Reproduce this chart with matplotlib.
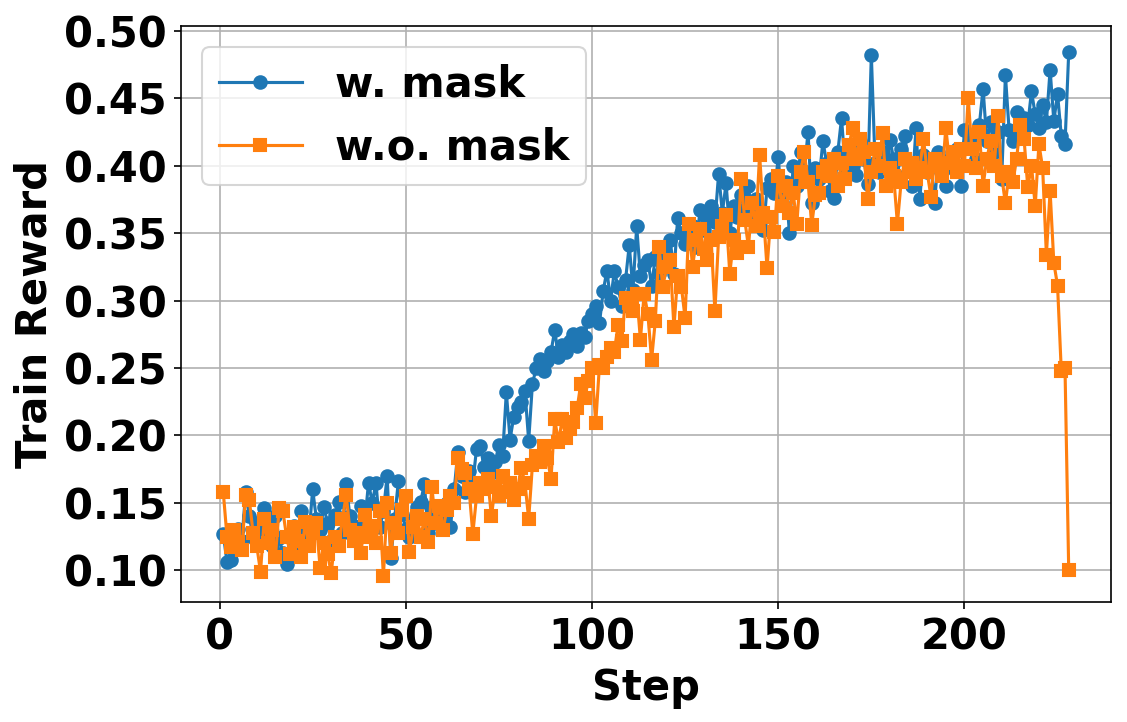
import matplotlib
matplotlib.use('Agg')
import matplotlib.pyplot as plt

plt.rcParams.update({
    'font.family': 'DejaVu Sans',
    'font.size': 20,
    'font.weight': 'bold',
})

# train reward per step
w_mask = [
    0.127, 0.106, 0.108, 0.118, 0.131, 0.122, 0.158, 0.140, 0.125, 0.135,
    0.128, 0.146, 0.132, 0.118, 0.140, 0.124, 0.113, 0.105, 0.127, 0.133,
    0.120, 0.144, 0.131, 0.126, 0.160, 0.138, 0.130, 0.147, 0.135, 0.122,
    0.141, 0.151, 0.128, 0.164, 0.140, 0.133, 0.123, 0.148, 0.136, 0.165,
    0.150, 0.165, 0.132, 0.144, 0.170, 0.109, 0.138, 0.166, 0.142, 0.131,
    0.125, 0.137, 0.147, 0.151, 0.164, 0.128, 0.147, 0.135, 0.143, 0.138,
    0.150, 0.132, 0.160, 0.188, 0.170, 0.158, 0.174, 0.165, 0.190, 0.192,
    0.177, 0.183, 0.172, 0.180, 0.193, 0.185, 0.232, 0.197, 0.214, 0.221,
    0.225, 0.233, 0.196, 0.238, 0.250, 0.257, 0.248, 0.255, 0.262, 0.278,
    0.258, 0.267, 0.262, 0.270, 0.275, 0.266, 0.276, 0.273, 0.285, 0.290,
    0.296, 0.283, 0.307, 0.322, 0.300, 0.322, 0.310, 0.296, 0.315, 0.341,
    0.308, 0.355, 0.318, 0.326, 0.330, 0.311, 0.332, 0.320, 0.338, 0.329,
    0.345, 0.320, 0.361, 0.350, 0.342, 0.348, 0.355, 0.340, 0.367, 0.352,
    0.361, 0.370, 0.358, 0.394, 0.365, 0.387, 0.350, 0.370, 0.362, 0.378,
    0.368, 0.385, 0.360, 0.375, 0.366, 0.352, 0.383, 0.390, 0.380, 0.406,
    0.372, 0.388, 0.350, 0.400, 0.385, 0.410, 0.395, 0.425, 0.372, 0.398,
    0.390, 0.418, 0.402, 0.381, 0.376, 0.410, 0.435, 0.398, 0.412, 0.400,
    0.393, 0.418, 0.405, 0.386, 0.482, 0.402, 0.395, 0.410, 0.398, 0.419,
    0.405, 0.392, 0.412, 0.422, 0.400, 0.385, 0.428, 0.375, 0.408, 0.395,
    0.400, 0.372, 0.410, 0.395, 0.385, 0.405, 0.398, 0.412, 0.385, 0.426,
    0.415, 0.420, 0.405, 0.430, 0.457, 0.418, 0.432, 0.410, 0.425, 0.390,
    0.467, 0.426, 0.418, 0.440, 0.422, 0.435, 0.430, 0.455, 0.438, 0.428,
    0.445, 0.432, 0.471, 0.433, 0.453, 0.422, 0.416, 0.484,
]

wo_mask = [
    0.158, 0.125, 0.117, 0.130, 0.121, 0.115, 0.156, 0.152, 0.128, 0.118,
    0.099, 0.138, 0.120, 0.130, 0.110, 0.146, 0.144, 0.125, 0.112, 0.132,
    0.122, 0.110, 0.136, 0.118, 0.128, 0.135, 0.102, 0.120, 0.112, 0.098,
    0.125, 0.118, 0.138, 0.156, 0.130, 0.122, 0.128, 0.113, 0.141, 0.125,
    0.133, 0.120, 0.144, 0.096, 0.150, 0.113, 0.135, 0.128, 0.145, 0.155,
    0.114, 0.132, 0.140, 0.125, 0.138, 0.121, 0.162, 0.135, 0.148, 0.130,
    0.145, 0.155, 0.150, 0.183, 0.175, 0.172, 0.160, 0.127, 0.155, 0.165,
    0.160, 0.168, 0.140, 0.162, 0.155, 0.170, 0.158, 0.165, 0.152, 0.160,
    0.176, 0.165, 0.138, 0.178, 0.185, 0.180, 0.192, 0.183, 0.168, 0.212,
    0.195, 0.212, 0.198, 0.205, 0.210, 0.220, 0.238, 0.228, 0.240, 0.250,
    0.209, 0.252, 0.250, 0.258, 0.265, 0.262, 0.282, 0.270, 0.302, 0.298,
    0.292, 0.305, 0.271, 0.305, 0.290, 0.256, 0.285, 0.340, 0.310, 0.325,
    0.330, 0.280, 0.318, 0.310, 0.287, 0.357, 0.325, 0.345, 0.353, 0.338,
    0.330, 0.345, 0.292, 0.347, 0.355, 0.363, 0.320, 0.345, 0.335, 0.390,
    0.360, 0.340, 0.372, 0.355, 0.408, 0.365, 0.324, 0.362, 0.351, 0.392,
    0.370, 0.385, 0.365, 0.380, 0.357, 0.395, 0.410, 0.388, 0.356, 0.378,
    0.380, 0.395, 0.400, 0.392, 0.405, 0.385, 0.402, 0.390, 0.415, 0.428,
    0.405, 0.420, 0.410, 0.375, 0.395, 0.412, 0.400, 0.424, 0.385, 0.398,
    0.392, 0.357, 0.388, 0.405, 0.395, 0.402, 0.390, 0.398, 0.420, 0.395,
    0.377, 0.405, 0.400, 0.392, 0.428, 0.402, 0.410, 0.395, 0.412, 0.400,
    0.450, 0.412, 0.398, 0.425, 0.385, 0.405, 0.418, 0.400, 0.437, 0.392,
    0.372, 0.395, 0.388, 0.405, 0.430, 0.420, 0.384, 0.400, 0.370, 0.416,
    0.398, 0.334, 0.381, 0.328, 0.311, 0.248, 0.250, 0.100,
]

steps = list(range(1, len(w_mask) + 1))
assert len(w_mask) == len(wo_mask) == 228

fig = plt.figure(figsize=(1127 / 150, 722 / 150), dpi=150)
ax = fig.add_axes([181 / 1127, 1 - 602 / 722, 930 / 1127, 576 / 722])

ax.plot(steps, w_mask, marker='o', color='#1f77b4', label='w. mask')
ax.plot(steps, wo_mask, marker='s', color='#ff7f0e', label='w.o. mask')

ax.set_xlabel('Step', fontweight='bold')
ax.set_ylabel('Train Reward', fontweight='bold')
ax.set_yticks([0.10, 0.15, 0.20, 0.25, 0.30, 0.35, 0.40, 0.45, 0.50])
ax.yaxis.set_major_formatter(matplotlib.ticker.FormatStrFormatter('%.2f'))
ax.grid(True)
ax.legend(loc='upper left', prop={'weight': 'bold', 'size': 20})

fig.savefig('out.png', dpi=150)
